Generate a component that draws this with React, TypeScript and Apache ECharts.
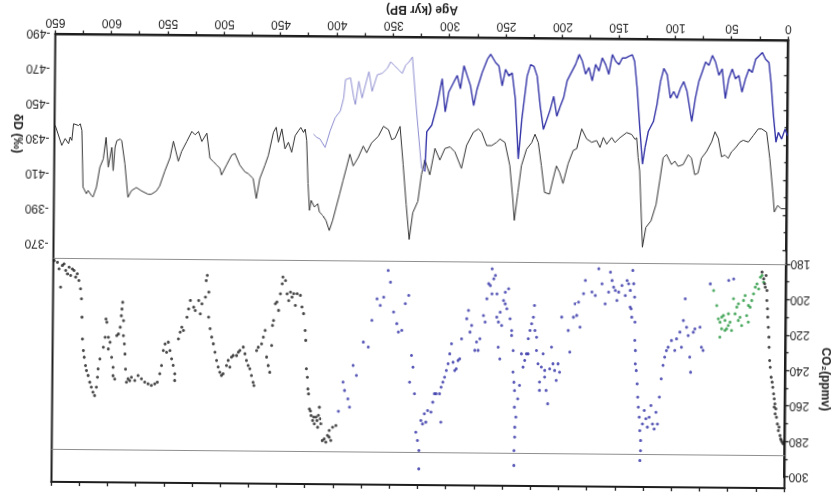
import React, { useEffect, useRef } from 'react';
import * as echarts from 'echarts';

// ---- Data (age in kyr BP, value) ----
// Dome C deuterium (black line)
const domeCdD: number[][] = [
  [649.4,-438],[643.5,-426.6],[640.5,-430.5],[637.5,-427.6],[636.1,-431.4],[634.6,-429.5],[633.1,-439],[628.7,-438],[627.2,-439],[625.7,-435.2],
  [624.3,-402.9],[621.3,-399.1],[619.8,-401],[616.9,-398.2],[615.4,-397.2],[612.4,-402.9],[609.5,-414.3],[606.5,-419.1],[604.2,-431.4],[602.1,-414.3],
  [599.1,-425.7],[597.7,-412.4],[596.2,-425.7],[594.7,-429.5],[591.7,-430.5],[590.3,-429.5],[587.3,-416.2],[584.4,-397.2],[581.4,-401],[577,-402.9],
  [572.5,-401],[566.6,-399.1],[563.7,-399.1],[559.2,-401],[556.3,-403.9],[551.9,-412.4],[547.4,-420],[544.5,-429.5],[540,-418.1],[537.1,-423.8],
  [532.6,-429.5],[528.2,-435.2],[525.3,-433.3],[522.3,-435.2],[519.3,-429.5],[514.9,-434.3],[512,-420],[509,-418.1],[506,-416.2],[503.1,-414.3],
  [501.6,-410.5],[497.2,-416.2],[492.7,-421.9],[489.8,-422.8],[485.4,-416.2],[480.9,-412.4],[478,-411.4],[473.5,-408.6],[470.6,-397.2],[467.6,-408.6],
  [463.2,-416.2],[460.2,-421.9],[455.8,-435.2],[453.4,-438],[451.4,-429.5],[448.4,-437.1],[445.5,-425.7],[442.5,-429.5],[439.6,-423.8],[436.6,-433.3],
  [433.7,-436.1],[431.6,-438],[429.2,-435.2],[427.7,-437.1],[426.3,-430.5],[424.8,-405.9],[423.3,-390.7],[421.9,-396.4],[418.9,-392.6],[416,-394.5],
  [414.5,-389.8],[411.5,-387.9],[408.6,-385],[405.6,-379.3],[402.7,-385],[399.7,-392.6],[396.7,-400.2],[393.8,-407.8],[390.8,-415.4],[387.9,-423],
  [384.9,-416.3],[380.5,-421.1],[376.1,-427.7],[373.1,-423.9],[368.7,-429.6],[362.8,-433.4],[358.3,-439.1],[353.9,-437.2],[350.9,-431.5],[348,-432.4],
  [343.6,-439.1],[340.6,-417.3],[337.6,-394.5],[334.7,-374.6],[331.7,-389.8],[327.3,-396.4],[324.3,-411.6],[321.4,-420.1],[316.9,-411.6],[312.5,-426.7],
  [308.1,-420.1],[303.7,-426.7],[299.2,-427.7],[294.8,-424.8],[288.9,-415.4],[284.5,-428.6],[278.5,-436.2],[274.1,-438.1],[271.2,-436.2],[266.7,-428.6],
  [262.3,-428.6],[257.9,-430.5],[254.9,-432.4],[250.5,-430.5],[246,-417.3],[243.1,-398.3],[241.6,-386],[238.6,-402.1],[235.7,-417.3],[231.3,-426.7],
  [226.8,-430.5],[223.9,-435.3],[220.9,-430.5],[218,-417.3],[215,-402.1],[210.6,-401.2],[207.6,-409.7],[204.7,-417.3],[201.7,-413.5],[198.7,-407.3],
  [194.3,-418.7],[189.9,-426.3],[186.9,-427.2],[182.5,-438.6],[178.1,-432.9],[173.6,-431],[169.2,-432],[166.2,-428.1],[163.3,-433.8],[160.3,-430],
  [155.9,-433.8],[152.9,-431],[148.5,-433.8],[142.6,-436.7],[138.2,-435.7],[135.2,-432.9],[133.7,-433.8],[132.3,-422.5],[130.8,-414.9],[127.8,-371.3],
  [124.9,-382.6],[120.4,-386.4],[116,-395.9],[113,-409.2],[110.1,-422.5],[107.1,-424.4],[102.7,-418.7],[99.7,-420.6],[96.8,-417.7],[92.4,-418.7],
  [87.9,-424.4],[85,-422.5],[82,-413],[79.1,-413.9],[76.1,-422.5],[71.7,-426.3],[67.2,-431.9],[64.3,-437.6],[61.3,-433.8],[58.4,-423.4],
  [55.4,-424.4],[52.5,-422.5],[49.5,-426.3],[46.6,-428.1],[42.1,-431.9],[39.2,-432.9],[34.7,-431.9],[30.3,-435.7],[25.9,-439.5],[22.9,-439.5],
  [18.5,-437.6],[15.5,-422.5],[12.6,-403.5],[11.1,-392.1],[8.1,-395.9],[5.2,-394],[0.8,-394],
];

// Vostok deuterium, older part (light blue line)
const vostokDdOld: number[][] = [
  [420.4,-434.3],[417.4,-432.4],[414.5,-431.5],[410,-426.7],[405.6,-436.2],[401.2,-443.8],[396.7,-447.6],[393.8,-455.2],[392.3,-465.6],[387.9,-466.6],
  [384.9,-455.2],[383.4,-451.4],[380.5,-464.7],[377.5,-455.2],[374.6,-462.8],[371.6,-470.3],[368.7,-459],[364.2,-468.5],[359.8,-469.4],[355.4,-472.2],
  [352.4,-476],[349.5,-474.1],[345,-471.3],[342.1,-469.4],[339.1,-474.1],[336.2,-476],[333.2,-478.9],[328.8,-445.7],[324.3,-415.4],[321.4,-413.5],
];

// Vostok deuterium, younger part (blue line)
const vostokDdYoung: number[][] = [
  [321.4,-413.5],[319.9,-436.2],[315.5,-440],[311,-451.4],[306.6,-466.6],[303.7,-447.6],[300.7,-459],[296.3,-464.7],[293.3,-468.5],[290.4,-460.9],
  [287.4,-474.1],[284.5,-468.5],[281.5,-462.8],[278.5,-451.4],[275.6,-460.9],[271.2,-470.3],[266.7,-477.9],[263.8,-480.8],[259.3,-476],[256.4,-474.1],
  [253.4,-462.8],[250.5,-472.2],[247.5,-468.5],[244.6,-470.3],[241.6,-455.2],[238.6,-421.1],[235.7,-443.8],[231.3,-468.5],[228.3,-475.1],[225.4,-474.1],
  [222.4,-468.5],[219.5,-451.4],[216.5,-438.1],[213.5,-443.8],[210.6,-449.5],[207.6,-457.1],[204.7,-445.7],[201.7,-451.4],[198.7,-456.6],[195.8,-466.1],
  [192.8,-469.9],[188.4,-475.5],[185.4,-481.2],[182.5,-477.4],[179.5,-469.9],[176.6,-473.7],[173.6,-466.1],[170.7,-475.5],[167.7,-471.7],[164.8,-479.3],
  [161.8,-475.5],[158.9,-469.9],[155.9,-481.2],[152.9,-477.4],[150,-475.5],[147,-479.3],[144.1,-479.3],[141.1,-480.3],[138.2,-481.2],[136.1,-477.4],
  [133.7,-462.3],[130.8,-437.6],[128.4,-418.7],[126.3,-428.1],[123.4,-437.6],[118.9,-443.3],[116,-452.8],[113,-466.1],[110.1,-473.6],[107.1,-469.9],
  [104.2,-456.6],[101.2,-460.4],[98.3,-456.6],[95.3,-462.3],[92.4,-466.1],[89.4,-460.4],[85,-443.3],[82,-456.6],[79.1,-466.1],[76.1,-471.7],
  [73.2,-477.4],[70.2,-475.5],[67.2,-481.2],[64.3,-477.4],[61.3,-469.9],[58.4,-473.6],[55.4,-456.6],[52.5,-468],[49.5,-473.6],[46.6,-468],
  [43.6,-469.9],[40.7,-460.4],[37.7,-468],[34.7,-473.6],[31.8,-471.7],[28.8,-479.3],[25.9,-481.2],[22.9,-483.1],[20,-479.3],[17,-477.4],
  [15,-466.1],[12.6,-447.1],[10.2,-431.9],[8.1,-437.6],[5.2,-433.8],[2.2,-439.5],[0,-435.7],
];

// CO2, Dome C 650-390 kyr (black dots)
const co2DomeCOld: number[][] = [
  [649.3,181.2],[646.4,182.2],[644.9,185.9],[642,184],[640.5,183.1],[639,186.8],[637.5,188.7],[636,184.9],[634.6,189.6],[633.1,185.9],
  [631.6,186.8],[630.1,190.5],[628.7,188.6],[627.2,192.4],[643.4,196.2],[625.7,197.1],[624.8,202.7],[624.2,213.1],[623.6,225.4],[622.7,231.9],
  [621.9,235.7],[620.7,240.4],[619.8,243.2],[618.3,246],[616.8,249.8],[615.4,252.6],[613.9,255.4],[612.4,257.3],[610.9,252.6],[610,246.9],
  [609.5,242.2],[608,236.6],[605,230],[603.5,224.3],[602.9,214],[602.1,215.8],[600.6,224.3],[600.6,230.9],[599.1,227.1],[597.6,235.6],
  [596.2,241.3],[596.2,246],[594.7,247.9],[593.2,223.3],[591.7,222.4],[590.2,218.6],[589.3,212.1],[588.8,208.3],[588.2,204.5],[587.3,214.9],
  [587.3,223.3],[586.4,228],[585.8,233.7],[585.2,242.2],[584.3,249.6],[582.9,247.7],[581.4,248.7],[579.9,246.8],[576.9,248.6],[574,245.8],
  [571,247.6],[568.1,249.5],[565.1,250.4],[562.2,251.3],[559.2,250.4],[556.9,249.4],[554.8,244.7],[553.3,240],[551.8,231.5],[550.3,227.8],
  [548.9,232.5],[547.4,226.8],[545.9,231.5],[544.4,236.2],[543,239.9],[541.5,244.6],[541.5,248.4],[538.5,224.9],[537,221.1],[535.6,218.3],
  [534.1,220.1],[531.1,212.6],[529.7,207.9],[528.2,203.1],[525.2,206.9],[523.8,208.8],[520.8,203.1],[519.3,210.6],[517.9,205],[514.9,201.2],
  [514.3,191.8],[513.4,188.9],[511.9,198.3],[511.9,212.5],[510.5,219],[509,223.7],[507.5,227.5],[506,232.2],[504.5,236.9],[503.1,240.6],
  [501.6,243.5],[500.1,245.3],[498.6,244.4],[495.7,239.7],[494.2,236.8],[492.7,240.6],[491.3,234.9],[489.8,234],[486.8,234],[485.3,232.1],
  [483.9,231.1],[480.9,229.2],[479.4,233],[478,236.7],[476.5,239.6],[475,241.4],[473.5,245.2],[472,249],[471.2,250.9],[469.1,231.1],
  [467.6,229.2],[464.7,227.3],[463.2,223.5],[461.7,219.7],[460.2,234.7],[458.7,239.5],[457.3,243.3],[455.8,228.1],[455.2,216.8],[454.3,214],
  [452.8,204.6],[451.4,203.6],[449.9,208.3],[448.4,198.9],[446.9,193.3],[446.3,189.5],[444,191.4],[442.5,198.9],[441,202.7],[439.5,197.9],
  [438.1,200.7],[436.6,198.8],[435.1,205.4],[433.6,198.8],[430.7,199.7],[429.2,206.3],[427.7,210],[426.2,219.5],[425.6,225.1],[424.8,241.1],
  [423.9,245.9],[423.3,252.5],[422.7,255.3],[421.8,263.8],[420.9,265],[420.3,267.5],[418.9,270.3],[418,268.4],[417.4,272.2],[415.9,268.4],
  [415,270.3],[414.4,274.1],[413.8,267.4],[413,262.8],[412.1,269.3],[411.5,272.1],[410,281.6],[408.5,280.6],[407,282.5],[405.6,278.7],
  [404.1,275.9],[404.1,279.6],[402.6,281.5],[401.1,274],[398.2,273],
];

// CO2, Vostok (blue dots)
const co2Vostok: number[][] = [
  [396.1,265],[392.2,248.5],[390.8,253.2],[387.8,257.9],[386.3,262.6],[383.4,239],[380.4,244.7],[374.5,225.8],[370.1,228.6],[367.1,213.5],
  [362.7,201.3],[359.8,205],[356.8,200.3],[353,185.2],[350.9,191.8],[347.9,208.7],[345,215.2],[343.5,219.9],[340.5,219],[337.6,203.9],
  [334.6,199.2],[333.2,248.2],[331.7,233.1],[330.3,239.7],[328.8,254.7],[327.3,276.4],[325.8,281.1],[324.4,286.7],[324.4,297.1],[322.9,269.8],
  [321.4,271.7],[319.9,266],[318.5,270.7],[317,264.1],[314,265],[312.5,259.4],[311.1,254.6],[309.6,254.6],[306.6,254.6],[305.2,250.9],
  [305.2,270.6],[303.7,248],[302.2,245.2],[300.7,241.4],[299.2,237.6],[297.8,232],[296.3,226.3],[294.8,236.7],[293.3,241.4],[291.9,240.4],
  [290.4,235.7],[288.9,234.8],[287.4,223.5],[283,212.1],[281.5,207.4],[280,219.6],[278.6,215.8],[275.6,229.9],[274.1,225.2],[272.7,229.9],
  [271.2,223.3],[268.2,210.2],[266.7,213.9],[265.3,200.7],[263.8,192.2],[262.3,193.2],[260.8,183.8],[260.8,197.9],[259.3,189.4],[257.9,187.5],
  [256.4,197.9],[256.4,211],[254.9,213.8],[254.9,228],[253.4,234.6],[253.4,208.2],[252,215.7],[250.5,201.6],[249,203.5],[249,196.9],
  [247.5,206.3],[246.1,195],[244.6,211.9],[243.1,218.5],[243.1,221.3],[241.6,229.8],[241.6,242],[240.7,247.7],[240.1,252.4],[240.1,261.8],
  [239.6,273.1],[239.6,278.7],[240.1,286.3],[240.1,294.7],[238.7,267.4],[237.2,257.1],[235.7,249.5],[234.2,231.6],[232.7,239.1],[231.3,235.3],
  [229.8,231.6],[228.3,231.6],[228.3,223.1],[226.8,218.4],[225.4,214.6],[223.9,210.9],[223,204.3],[222.4,218.4],[220.9,222.2],[220.9,229.7],
  [219.5,237.2],[218,247.5],[218,252.2],[216.5,239],[215,231.5],[213.5,240.9],[213.5,244.7],[212.1,252.2],[210.6,259.7],[209.1,240],
  [207.6,227.7],[206.2,237.1],[204.7,240.9],[203.2,246.5],[201.7,237.1],[200.3,241.8],[198.8,210.7],[192.9,218.2],[191.4,230.4],[188.4,210.7],
  [187,203.1],[185.5,209.7],[184,202.2],[182.5,216.3],[179.6,197.4],[178.1,189.9],[172.2,196.4],[169.2,198.3],[166.3,183.2],[163.3,191.7],
  [160.4,203],[157.4,196.4],[155.9,185.1],[154.4,189.8],[153,193.5],[151.5,195.4],[150,201],[148.5,196.3],[145.6,192.6],[142.6,198.2],
  [141.1,189.7],[139.7,191.6],[138.2,195.3],[138.2,204.7],[137.3,205.7],[136.7,210.4],[136.1,184],[135.2,191.5],[134.3,199.1],[133.8,213.2],
  [133.8,223.5],[133.2,229.2],[133.2,236.7],[132.3,240.5],[131.4,248],[130.8,255.5],[130.2,261.2],[129.3,266.8],[128.7,274.4],[127.9,280],
  [127.9,285.7],[128.4,291.3],[126.4,270.6],[124.9,263],[123.4,267.7],[122,272.4],[120.5,266.8],[119,260.2],[117.5,270.6],[116,273.4],
  [114.5,264],[113.1,270.6],[111.6,255.4],[110.1,245.1],[108.6,237.5],[107.2,232.8],[105.7,229.1],[104.2,227.2],[101.3,223.4],[98.3,229],
  [96.8,222.4],[93.9,218.6],[92.4,227.1],[90.9,212],[89.4,199.8],[88,215.8],[86.5,220.5],[85,232.7],[84.1,241.2],[82,218.6],
  [80.6,216.7],[76.1,215.7],[74.7,227],[73.2,228.8],[67.3,191.2],[51,189.2],[46.6,188.3],
];

// CO2, Taylor Dome (green dots)
const co2TaylorDome: number[][] = [
  [64.3,195],[61.4,203.4],[59.9,210.9],[58.4,212.8],[56.9,216.5],[58.4,221.2],[56.9,209.9],[55.4,209],[54,211.8],[54,217.4],
  [52.5,216.5],[51,208],[51,214.6],[49.5,212.7],[48.1,217.4],[46.6,199.5],[45.1,208],[43.6,204.2],[42.2,202.3],[42.2,211.7],
  [40.7,209.9],[39.2,214.6],[37.7,200.4],[36.3,197.6],[34.8,208.9],[33.3,212.6],[33.3,203.2],[31.8,204.2],[30.4,200.4],[28.9,196.6],
  [27.4,192.8],[25.9,191],[24.4,193.8],[22.9,187.2],[21.5,186.2],[20,190],
];

// CO2, Dome C last 22 kyr (black dots)
const co2DomeCRecent: number[][] = [
  [21.5,184.3],[20,188.1],[19.1,190.9],[18.5,192.8],[17.9,186.2],[17,194.7],[17,200.3],[16.4,205],[16.1,209.7],[15.5,215.4],
  [14.9,221],[14.7,226.7],[14.1,234.2],[13.5,238],[12.6,243.6],[11.7,246.4],[11.1,249.3],[10.3,253],[9.7,255.8],[9.7,260.5],
  [9.1,258.6],[8.8,264.3],[8.2,261.4],[7.6,266.2],[6.7,270],[5.8,273.7],[5.2,271.8],[4.3,276.5],[3.7,278.4],[3.1,279.3],
  [2.3,280.3],[1.4,281.2],
];

// Reference CO2 levels (grey horizontal lines)
const co2RefLevels: number[] = [180, 288];

const FONT = "'Liberation Sans', Arial, Helvetica, sans-serif";
const INK = '#1e1e1e';

export default function App() {
  const ref = useRef<HTMLDivElement>(null);

  useEffect(() => {
    document.body.style.margin = '0';
    document.body.style.background = '#ffffff';
    const chart = echarts.init(ref.current as HTMLDivElement, null, { renderer: 'svg' });

    const gridBase = { left: 45.5, right: 53.5, outerBoundsMode: 'none' as any };
    const hiddenX = (gridIndex: number) => ({ gridIndex, type: 'value', min: 0, max: 650, show: false });
    const lineStyle = { color: INK, width: 2 };
    const tickStyle = { color: INK, width: 1.3 };

    const option: any = {
      animation: false,
      backgroundColor: '#ffffff',
      grid: [
        { ...gridBase, top: 10, bottom: 37.5, show: true, borderColor: INK, borderWidth: 2, backgroundColor: 'transparent' },
        { ...gridBase, top: 21, height: 212.5 },
        { ...gridBase, top: 247.5, height: 210 },
      ],
      xAxis: [
        {
          gridIndex: 0, type: 'value', position: 'bottom', min: 0, max: 650, interval: 50,
          axisLine: { show: true, lineStyle },
          axisTick: { show: true, length: 4, lineStyle: tickStyle },
          minorTick: { show: true, splitNumber: 2, length: 4, lineStyle: tickStyle },
          splitLine: { show: false },
          axisLabel: { fontSize: 12, color: INK, margin: 5, fontFamily: FONT },
          name: 'Age (kyr BP)', nameLocation: 'middle', nameGap: 18,
          nameTextStyle: { fontSize: 12, fontWeight: 'bold', color: INK, fontFamily: FONT },
        },
        {
          gridIndex: 0, type: 'value', position: 'top', min: 0, max: 650, interval: 25,
          axisLine: { show: true, lineStyle },
          axisTick: { show: true, length: 4, lineStyle: tickStyle },
          axisLabel: { show: false },
          splitLine: { show: false },
        },
        hiddenX(1),
        hiddenX(2),
      ],
      yAxis: [
        { gridIndex: 0, type: 'value', min: 0, max: 1, show: false },
        {
          gridIndex: 1, type: 'value', position: 'left', min: 180, max: 300, interval: 20,
          axisLine: { show: true, lineStyle },
          axisTick: { show: true, length: 4, lineStyle: tickStyle },
          minorTick: { show: true, splitNumber: 2, length: 3, lineStyle: tickStyle },
          splitLine: { show: false },
          axisLabel: { fontSize: 12, color: INK, margin: 4, fontFamily: FONT },
          name: 'CO₂(ppmv)', nameLocation: 'middle', nameGap: 30, nameRotate: 90,
          nameTextStyle: { fontSize: 12, fontWeight: 'bold', color: INK, fontFamily: FONT, padding: [0, 0, 0, 16] },
        },
        {
          gridIndex: 2, type: 'value', position: 'right', min: -490, max: -370, interval: 20,
          axisLine: { show: true, lineStyle },
          axisTick: { show: true, length: 4, lineStyle: tickStyle },
          minorTick: { show: true, splitNumber: 2, length: 3, lineStyle: tickStyle },
          splitLine: { show: false },
          axisLabel: { fontSize: 12, color: INK, margin: 5, fontFamily: FONT },
        },
      ],
      graphic: [
        {
          type: 'text', x: 815, y: 358, rotation: Math.PI / 2, silent: true,
          style: {
            text: 'δD (‰)', fill: INK, fontSize: 12, fontWeight: 'bold', fontFamily: FONT,
            align: 'center', verticalAlign: 'middle',
          },
        },
      ],
      series: [
        {
          name: 'Dome C δD', type: 'line', xAxisIndex: 3, yAxisIndex: 2, data: domeCdD,
          showSymbol: false, lineStyle: { color: '#333333', width: 1 }, z: 3,
        },
        {
          name: 'Vostok δD (old)', type: 'line', xAxisIndex: 3, yAxisIndex: 2, data: vostokDdOld,
          showSymbol: false, lineStyle: { color: '#8f8fd2', width: 1 }, z: 3,
        },
        {
          name: 'Vostok δD', type: 'line', xAxisIndex: 3, yAxisIndex: 2, data: vostokDdYoung,
          showSymbol: false, lineStyle: { color: '#3535a8', width: 1.4 }, z: 3,
        },
        {
          name: 'CO2 Dome C', type: 'scatter', xAxisIndex: 2, yAxisIndex: 1, data: co2DomeCOld,
          symbolSize: 3, itemStyle: { color: '#1c1c1c' }, clip: false, z: 4,
          markLine: {
            silent: true, symbol: ['none', 'none'], label: { show: false },
            lineStyle: { color: '#8e8e8e', width: 1, type: 'solid' },
            data: co2RefLevels.map((v) => ({ yAxis: v })),
          },
        },
        {
          name: 'CO2 Vostok', type: 'scatter', xAxisIndex: 2, yAxisIndex: 1, data: co2Vostok,
          symbolSize: 3, itemStyle: { color: '#3030a6' }, clip: false, z: 4,
        },
        {
          name: 'CO2 Taylor Dome', type: 'scatter', xAxisIndex: 2, yAxisIndex: 1, data: co2TaylorDome,
          symbolSize: 3, itemStyle: { color: '#23963c' }, clip: false, z: 4,
        },
        {
          name: 'CO2 Dome C recent', type: 'scatter', xAxisIndex: 2, yAxisIndex: 1, data: co2DomeCRecent,
          symbolSize: 3, itemStyle: { color: '#1c1c1c' }, clip: false, z: 4,
        },
      ],
    };

    chart.setOption(option);
    return () => chart.dispose();
  }, []);

  return (
    <div
      style={{
        position: 'fixed', left: 0, top: 0, width: 832, height: 495,
        background: '#ffffff', transform: 'rotate(180.5deg)', transformOrigin: '50% 50%',
      }}
    >
      <div ref={ref} style={{ width: 832, height: 495 }} />
    </div>
  );
}
